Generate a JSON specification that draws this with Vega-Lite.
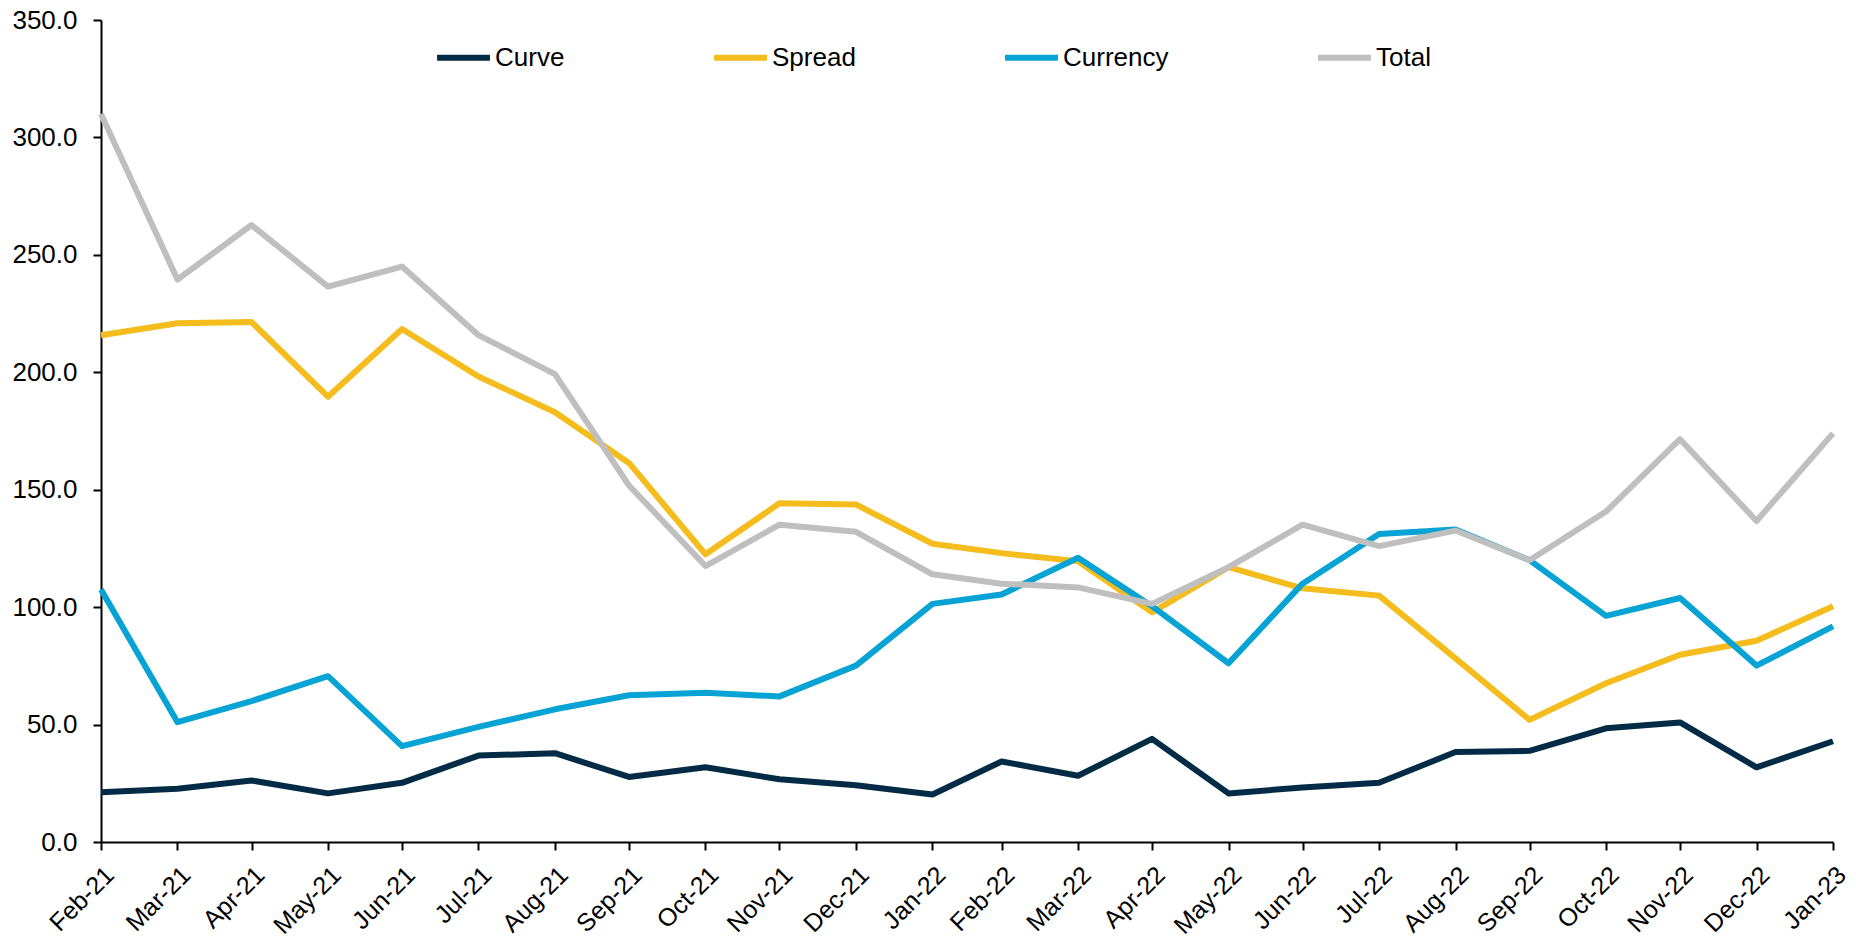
{
  "$schema": "https://vega.github.io/schema/vega-lite/v6.json",
  "autosize": {"type": "none"},
  "width": 1732,
  "height": 822,
  "padding": {"left": 101, "top": 20, "right": 23, "bottom": 96},
  "background": "white",
  "config": {
    "view": {"stroke": null},
    "font": "Liberation Sans",
    "axis": {"labelFont": "Liberation Sans", "labelFontSize": 26, "labelColor": "#000000", "domainColor": "#000000", "domainWidth": 2, "tickColor": "#000000", "tickWidth": 2, "tickSize": 8, "grid": false, "title": null}
  },
  "data": {
    "format": {"parse": {"date": "utc:'%Y-%m-%d'"}},
    "values": [
      {"date": "2021-02-28", "series": "Curve", "value": 21.2},
      {"date": "2021-03-31", "series": "Curve", "value": 22.7},
      {"date": "2021-04-30", "series": "Curve", "value": 26.2},
      {"date": "2021-05-31", "series": "Curve", "value": 20.7},
      {"date": "2021-06-30", "series": "Curve", "value": 25.2},
      {"date": "2021-07-31", "series": "Curve", "value": 36.8},
      {"date": "2021-08-31", "series": "Curve", "value": 37.8},
      {"date": "2021-09-30", "series": "Curve", "value": 27.7},
      {"date": "2021-10-31", "series": "Curve", "value": 31.8},
      {"date": "2021-11-30", "series": "Curve", "value": 26.7},
      {"date": "2021-12-31", "series": "Curve", "value": 24.2},
      {"date": "2022-01-31", "series": "Curve", "value": 20.2},
      {"date": "2022-02-28", "series": "Curve", "value": 34.3},
      {"date": "2022-03-31", "series": "Curve", "value": 28.2},
      {"date": "2022-04-30", "series": "Curve", "value": 43.9},
      {"date": "2022-05-31", "series": "Curve", "value": 20.7},
      {"date": "2022-06-30", "series": "Curve", "value": 23.2},
      {"date": "2022-07-31", "series": "Curve", "value": 25.2},
      {"date": "2022-08-31", "series": "Curve", "value": 38.3},
      {"date": "2022-09-30", "series": "Curve", "value": 38.8},
      {"date": "2022-10-31", "series": "Curve", "value": 48.4},
      {"date": "2022-11-30", "series": "Curve", "value": 50.9},
      {"date": "2022-12-31", "series": "Curve", "value": 31.8},
      {"date": "2023-01-31", "series": "Curve", "value": 42.9},
      {"date": "2021-02-28", "series": "Spread", "value": 215.8},
      {"date": "2021-03-31", "series": "Spread", "value": 220.9},
      {"date": "2021-04-30", "series": "Spread", "value": 221.4},
      {"date": "2021-05-31", "series": "Spread", "value": 189.6},
      {"date": "2021-06-30", "series": "Spread", "value": 218.4},
      {"date": "2021-07-31", "series": "Spread", "value": 198.2},
      {"date": "2021-08-31", "series": "Spread", "value": 183.0},
      {"date": "2021-09-30", "series": "Spread", "value": 161.4},
      {"date": "2021-10-31", "series": "Spread", "value": 122.5},
      {"date": "2021-11-30", "series": "Spread", "value": 144.2},
      {"date": "2021-12-31", "series": "Spread", "value": 143.7},
      {"date": "2022-01-31", "series": "Spread", "value": 127.0},
      {"date": "2022-02-28", "series": "Spread", "value": 123.0},
      {"date": "2022-03-31", "series": "Spread", "value": 119.5},
      {"date": "2022-04-30", "series": "Spread", "value": 97.8},
      {"date": "2022-05-31", "series": "Spread", "value": 117.0},
      {"date": "2022-06-30", "series": "Spread", "value": 108.0},
      {"date": "2022-07-31", "series": "Spread", "value": 104.9},
      {"date": "2022-08-31", "series": "Spread", "value": 78.2},
      {"date": "2022-09-30", "series": "Spread", "value": 52.0},
      {"date": "2022-10-31", "series": "Spread", "value": 67.6},
      {"date": "2022-11-30", "series": "Spread", "value": 79.7},
      {"date": "2022-12-31", "series": "Spread", "value": 85.7},
      {"date": "2023-01-31", "series": "Spread", "value": 100.4},
      {"date": "2021-02-28", "series": "Currency", "value": 107.5},
      {"date": "2021-03-31", "series": "Currency", "value": 51.0},
      {"date": "2021-04-30", "series": "Currency", "value": 60.0},
      {"date": "2021-05-31", "series": "Currency", "value": 70.6},
      {"date": "2021-06-30", "series": "Currency", "value": 40.8},
      {"date": "2021-07-31", "series": "Currency", "value": 49.0},
      {"date": "2021-08-31", "series": "Currency", "value": 56.5},
      {"date": "2021-09-30", "series": "Currency", "value": 62.5},
      {"date": "2021-10-31", "series": "Currency", "value": 63.5},
      {"date": "2021-11-30", "series": "Currency", "value": 62.0},
      {"date": "2021-12-31", "series": "Currency", "value": 75.1},
      {"date": "2022-01-31", "series": "Currency", "value": 101.4},
      {"date": "2022-02-28", "series": "Currency", "value": 105.4},
      {"date": "2022-03-31", "series": "Currency", "value": 121.0},
      {"date": "2022-04-30", "series": "Currency", "value": 100.4},
      {"date": "2022-05-31", "series": "Currency", "value": 76.1},
      {"date": "2022-06-30", "series": "Currency", "value": 110.0},
      {"date": "2022-07-31", "series": "Currency", "value": 131.1},
      {"date": "2022-08-31", "series": "Currency", "value": 133.1},
      {"date": "2022-09-30", "series": "Currency", "value": 120.0},
      {"date": "2022-10-31", "series": "Currency", "value": 96.3},
      {"date": "2022-11-30", "series": "Currency", "value": 103.9},
      {"date": "2022-12-31", "series": "Currency", "value": 75.1},
      {"date": "2023-01-31", "series": "Currency", "value": 91.8},
      {"date": "2021-02-28", "series": "Total", "value": 310.0},
      {"date": "2021-03-31", "series": "Total", "value": 239.5},
      {"date": "2021-04-30", "series": "Total", "value": 262.7},
      {"date": "2021-05-31", "series": "Total", "value": 236.5},
      {"date": "2021-06-30", "series": "Total", "value": 245.0},
      {"date": "2021-07-31", "series": "Total", "value": 215.8},
      {"date": "2021-08-31", "series": "Total", "value": 199.2},
      {"date": "2021-09-30", "series": "Total", "value": 151.8},
      {"date": "2021-10-31", "series": "Total", "value": 117.5},
      {"date": "2021-11-30", "series": "Total", "value": 135.1},
      {"date": "2021-12-31", "series": "Total", "value": 132.1},
      {"date": "2022-01-31", "series": "Total", "value": 114.0},
      {"date": "2022-02-28", "series": "Total", "value": 110.0},
      {"date": "2022-03-31", "series": "Total", "value": 108.4},
      {"date": "2022-04-30", "series": "Total", "value": 101.4},
      {"date": "2022-05-31", "series": "Total", "value": 117.0},
      {"date": "2022-06-30", "series": "Total", "value": 135.1},
      {"date": "2022-07-31", "series": "Total", "value": 126.0},
      {"date": "2022-08-31", "series": "Total", "value": 132.6},
      {"date": "2022-09-30", "series": "Total", "value": 120.0},
      {"date": "2022-10-31", "series": "Total", "value": 140.7},
      {"date": "2022-11-30", "series": "Total", "value": 171.5},
      {"date": "2022-12-31", "series": "Total", "value": 136.7},
      {"date": "2023-01-31", "series": "Total", "value": 174.0}
    ]
  },
  "mark": {"type": "line", "strokeWidth": 6, "strokeJoin": "round", "strokeCap": "butt"},
  "encoding": {
    "x": {
      "field": "date",
      "type": "temporal",
      "scale": {"type": "utc", "domain": [{"year": 2021, "month": 2, "date": 28, "utc": true}, {"year": 2023, "month": 1, "date": 31, "utc": true}], "nice": false},
      "axis": {
        "labelExpr": "utcFormat(datum.value, '%b-%y')",
        "labelAngle": -45,
        "labelFontSize": 25,
        "labelPadding": 12,
        "labelOverlap": false,
        "labelBound": false,
        "labelFlush": false,
        "values": [
          {"year": 2021, "month": 2, "date": 28, "utc": true},
          {"year": 2021, "month": 3, "date": 31, "utc": true},
          {"year": 2021, "month": 4, "date": 30, "utc": true},
          {"year": 2021, "month": 5, "date": 31, "utc": true},
          {"year": 2021, "month": 6, "date": 30, "utc": true},
          {"year": 2021, "month": 7, "date": 31, "utc": true},
          {"year": 2021, "month": 8, "date": 31, "utc": true},
          {"year": 2021, "month": 9, "date": 30, "utc": true},
          {"year": 2021, "month": 10, "date": 31, "utc": true},
          {"year": 2021, "month": 11, "date": 30, "utc": true},
          {"year": 2021, "month": 12, "date": 31, "utc": true},
          {"year": 2022, "month": 1, "date": 31, "utc": true},
          {"year": 2022, "month": 2, "date": 28, "utc": true},
          {"year": 2022, "month": 3, "date": 31, "utc": true},
          {"year": 2022, "month": 4, "date": 30, "utc": true},
          {"year": 2022, "month": 5, "date": 31, "utc": true},
          {"year": 2022, "month": 6, "date": 30, "utc": true},
          {"year": 2022, "month": 7, "date": 31, "utc": true},
          {"year": 2022, "month": 8, "date": 31, "utc": true},
          {"year": 2022, "month": 9, "date": 30, "utc": true},
          {"year": 2022, "month": 10, "date": 31, "utc": true},
          {"year": 2022, "month": 11, "date": 30, "utc": true},
          {"year": 2022, "month": 12, "date": 31, "utc": true},
          {"year": 2023, "month": 1, "date": 31, "utc": true}
        ]
      }
    },
    "y": {
      "field": "value",
      "type": "quantitative",
      "scale": {"domain": [0, 350], "nice": false},
      "axis": {"values": [0, 50, 100, 150, 200, 250, 300, 350], "format": ".1f", "labelPadding": 16}
    },
    "color": {
      "field": "series",
      "type": "nominal",
      "scale": {"domain": ["Curve", "Spread", "Currency", "Total"], "range": ["#032B45", "#F4BC1C", "#06A3D4", "#BFBFBF"]},
      "legend": {
        "title": null,
        "orient": "none",
        "direction": "horizontal",
        "legendX": 333,
        "legendY": 8,
        "symbolType": "stroke",
        "symbolSize": 2800,
        "symbolStrokeWidth": 6,
        "labelFont": "Liberation Sans",
        "labelFontSize": 26,
        "labelColor": "#000000",
        "labelOffset": 2,
        "columnPadding": 137
      }
    }
  }
}
